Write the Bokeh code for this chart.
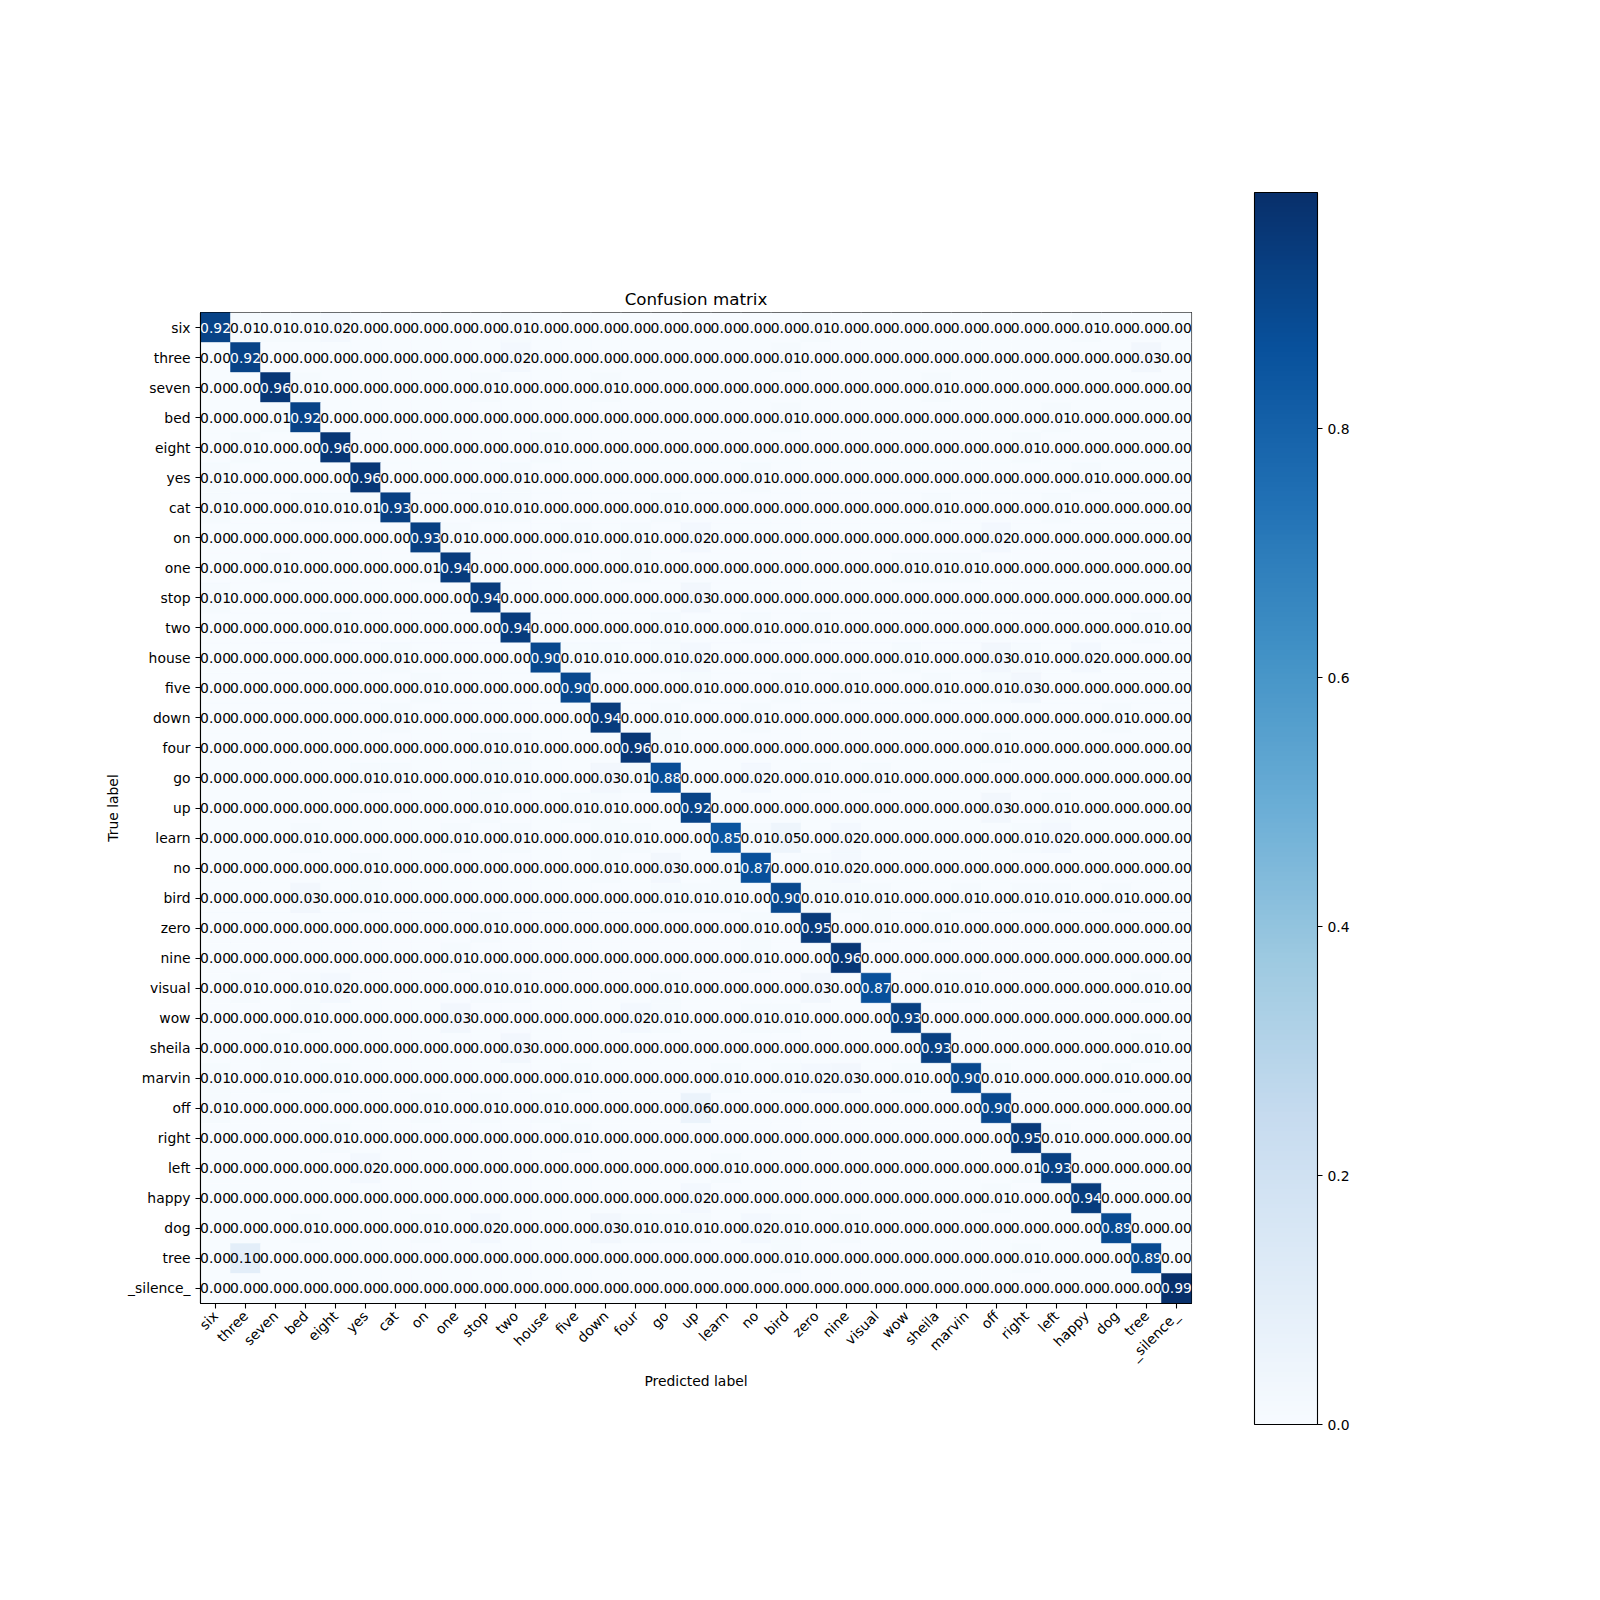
import math
import numpy as np
from bokeh.plotting import figure
from bokeh.models import (ColumnDataSource, LinearColorMapper, FixedTicker,
                          PrintfTickFormatter, FactorRange, ColorBar)
from bokeh.palettes import Blues256
from bokeh.core.properties import value
from bokeh.embed import file_html
from bokeh.resources import INLINE

classes = ["six", "three", "seven", "bed", "eight", "yes", "cat", "on", "one", "stop",
           "two", "house", "five", "down", "four", "go", "up", "learn", "no", "bird",
           "zero", "nine", "visual", "wow", "sheila", "marvin", "off", "right", "left",
           "happy", "dog", "tree", "_silence_"]

# each row: true label -> normalized counts per predicted label (column order = classes)
row_six     = [.92,.01,.01,.01,.02,0,0,0,0,0,.01,0,0,0,0,0,0,0,0,0,.01,0,0,0,0,0,0,0,0,.01,0,0,0]
row_three   = [0,.92,0,0,0,0,0,0,0,0,.02,0,0,0,0,0,0,0,0,.01,0,0,0,0,0,0,0,0,0,0,0,.03,0]
row_seven   = [0,0,.96,.01,0,0,0,0,0,.01,0,0,0,.01,0,0,0,0,0,0,0,0,0,0,.01,0,0,0,0,0,0,0,0]
row_bed     = [0,0,.01,.92,0,0,0,0,0,0,0,0,0,0,0,0,0,0,0,.01,0,0,0,0,0,0,0,0,.01,0,0,0,0]
row_eight   = [0,.01,0,0,.96,0,0,0,0,0,0,.01,0,0,0,0,0,0,0,0,0,0,0,0,0,0,0,.01,0,0,0,0,0]
row_yes     = [.01,0,0,0,0,.96,0,0,0,0,.01,0,0,0,0,0,0,0,.01,0,0,0,0,0,0,0,0,0,0,.01,0,0,0]
row_cat     = [.01,0,0,.01,.01,.01,.93,0,0,.01,.01,0,0,0,0,.01,0,0,0,0,0,0,0,0,.01,0,0,0,.01,0,0,0,0]
row_on      = [0,0,0,0,0,0,0,.93,.01,0,0,0,.01,0,.01,0,.02,0,0,0,0,0,0,0,0,0,.02,0,0,0,0,0,0]
row_one     = [0,0,.01,0,0,0,0,.01,.94,0,0,0,0,0,.01,0,0,0,0,0,0,0,0,.01,.01,.01,0,0,0,0,0,0,0]
row_stop    = [.01,0,0,0,0,0,0,0,0,.94,0,0,0,0,0,0,.03,0,0,0,0,0,0,0,0,0,0,0,0,0,0,0,0]
row_two     = [0,0,0,0,.01,0,0,0,0,0,.94,0,0,0,0,.01,0,0,.01,0,.01,0,0,0,0,0,0,0,0,0,0,.01,0]
row_house   = [0,0,0,0,0,0,.01,0,0,0,0,.90,.01,.01,0,.01,.02,0,0,0,0,0,0,.01,0,0,.03,.01,0,.02,0,0,0]
row_five    = [0,0,0,0,0,0,0,.01,0,0,0,0,.90,0,0,0,.01,0,0,.01,0,.01,0,0,.01,0,.01,.03,0,0,0,0,0]
row_down    = [0,0,0,0,0,0,.01,0,0,0,0,0,0,.94,0,.01,0,0,.01,0,0,0,0,0,0,0,0,0,0,0,.01,0,0]
row_four    = [0,0,0,0,0,0,0,0,0,.01,.01,0,0,0,.96,.01,0,0,0,0,0,0,0,0,0,0,.01,0,0,0,0,0,0]
row_go      = [0,0,0,0,0,.01,.01,0,0,.01,.01,0,0,.03,.01,.88,0,0,.02,0,.01,0,.01,0,0,0,0,0,0,0,0,0,0]
row_up      = [0,0,0,0,0,0,0,0,0,.01,0,0,.01,.01,0,0,.92,0,0,0,0,0,0,0,0,0,.03,0,.01,0,0,0,0]
row_learn   = [0,0,0,.01,0,0,0,0,.01,0,.01,0,0,.01,.01,0,0,.85,.01,.05,0,.02,0,0,0,0,0,.01,.02,0,0,0,0]
row_no      = [0,0,0,0,0,.01,0,0,0,0,0,0,0,.01,0,.03,0,.01,.87,0,.01,.02,0,0,0,0,0,0,0,0,0,0,0]
row_bird    = [0,0,0,.03,0,.01,0,0,0,0,0,0,0,0,0,.01,.01,.01,0,.90,.01,.01,.01,0,0,.01,0,.01,.01,0,.01,0,0]
row_zero    = [0,0,0,0,0,0,0,0,0,.01,0,0,0,0,0,0,0,0,.01,0,.95,0,.01,0,.01,0,0,0,0,0,0,0,0]
row_nine    = [0,0,0,0,0,0,0,0,.01,0,0,0,0,0,0,0,0,0,.01,0,0,.96,0,0,0,0,0,0,0,0,0,0,0]
row_visual  = [0,.01,0,.01,.02,0,0,0,0,.01,.01,0,0,0,0,.01,0,0,0,0,.03,0,.87,0,.01,.01,0,0,0,0,0,.01,0]
row_wow     = [0,0,0,.01,0,0,0,0,.03,0,0,0,0,0,.02,.01,0,0,.01,.01,0,0,0,.93,0,0,0,0,0,0,0,0,0]
row_sheila  = [0,0,.01,0,0,0,0,0,0,0,.03,0,0,0,0,0,0,0,0,0,0,0,0,0,.93,0,0,0,0,0,0,.01,0]
row_marvin  = [.01,0,.01,0,.01,0,0,0,0,0,0,0,.01,0,0,0,0,.01,0,.01,.02,.03,0,.01,0,.90,.01,0,0,0,.01,0,0]
row_off     = [.01,0,0,0,0,0,0,.01,0,.01,0,.01,0,0,0,0,.06,0,0,0,0,0,0,0,0,0,.90,0,0,0,0,0,0]
row_right   = [0,0,0,0,.01,0,0,0,0,0,0,0,.01,0,0,0,0,0,0,0,0,0,0,0,0,0,0,.95,.01,0,0,0,0]
row_left    = [0,0,0,0,0,.02,0,0,0,0,0,0,0,0,0,0,0,.01,0,0,0,0,0,0,0,0,0,.01,.93,0,0,0,0]
row_happy   = [0,0,0,0,0,0,0,0,0,0,0,0,0,0,0,0,.02,0,0,0,0,0,0,0,0,0,.01,0,0,.94,0,0,0]
row_dog     = [0,0,0,.01,0,0,0,.01,0,.02,0,0,0,.03,.01,.01,.01,0,.02,.01,0,.01,0,0,0,0,0,0,0,0,.89,0,0]
row_tree    = [0,.10,0,0,0,0,0,0,0,0,0,0,0,0,0,0,0,0,0,.01,0,0,0,0,0,0,0,.01,0,0,0,.89,0]
row_silence = [0,0,0,0,0,0,0,0,0,0,0,0,0,0,0,0,0,0,0,0,0,0,0,0,0,0,0,0,0,0,0,0,.99]

colorbar_ticks = [0.0, 0.2, 0.4, 0.6, 0.8]

matrix = np.array([row_six, row_three, row_seven, row_bed, row_eight, row_yes, row_cat,
                   row_on, row_one, row_stop, row_two, row_house, row_five, row_down,
                   row_four, row_go, row_up, row_learn, row_no, row_bird, row_zero,
                   row_nine, row_visual, row_wow, row_sheila, row_marvin, row_off,
                   row_right, row_left, row_happy, row_dog, row_tree, row_silence], dtype=float)

vmax = matrix.max()
thresh = vmax / 2.0
palette = list(reversed(Blues256))
mapper = LinearColorMapper(palette=palette, low=0.0, high=vmax)

xs, ys, vs, labels, tcols = [], [], [], [], []
for i, t in enumerate(classes):
    for j, pcls in enumerate(classes):
        v = matrix[i, j]
        xs.append(pcls)
        ys.append(t)
        vs.append(v)
        labels.append(f"{v:.2f}")
        tcols.append("white" if v > thresh else "black")
src = ColumnDataSource(dict(x=xs, y=ys, v=vs, label=labels, tcol=tcols))

FONT = "DejaVu Sans"
FS = "13.9px"

p = figure(x_range=FactorRange(*classes), y_range=FactorRange(*reversed(classes)),
           frame_width=991, frame_height=991,
           min_border_left=200, min_border_top=312, min_border_right=200, min_border_bottom=200,
           title="Confusion matrix", output_backend="svg", toolbar_location=None)
p.rect(x="x", y="y", width=1, height=1, source=src,
       fill_color={"field": "v", "transform": mapper},
       line_color={"field": "v", "transform": mapper}, line_width=0.5)
p.text(x="x", y="y", text="label", source=src, text_color="tcol",
       text_align="center", text_baseline="middle",
       text_font=value(FONT), text_font_size=value(FS))

p.title.align = "center"
p.title.text_font = FONT
p.title.text_font_size = "16.7px"
p.title.text_font_style = "normal"
p.title.text_color = "black"
p.title.standoff = 7

p.grid.visible = False
p.outline_line_color = "black"
p.outline_line_alpha = 1.0
p.outline_line_width = 1.1
p.background_fill_color = "white"
p.border_fill_color = "white"

for ax in (p.xaxis[0], p.yaxis[0]):
    ax.axis_line_color = "black"
    ax.axis_line_width = 1.1
    ax.major_tick_line_color = "black"
    ax.major_tick_line_width = 1.1
    ax.major_tick_out = 5
    ax.major_tick_in = 0
    ax.major_label_text_font = FONT
    ax.major_label_text_font_size = FS
    ax.major_label_text_color = "black"
    ax.major_label_standoff = 5
    ax.axis_label_text_font = FONT
    ax.axis_label_text_font_size = FS
    ax.axis_label_text_font_style = "normal"
    ax.axis_label_text_color = "black"

p.xaxis.axis_label = "Predicted label"
p.yaxis.axis_label = "True label"
p.xaxis.axis_label_standoff = 1
p.yaxis.axis_label_standoff = 4
p.xaxis.major_label_orientation = math.pi / 4

cbar = ColorBar(color_mapper=mapper, orientation="vertical",
                location=(1054, -121), width=63, height=1232, padding=0,
                ticker=FixedTicker(ticks=colorbar_ticks),
                formatter=PrintfTickFormatter(format="%.1f"),
                major_tick_out=5, major_tick_in=0,
                major_tick_line_color="black", major_tick_line_width=1.1,
                minor_tick_line_color=None,
                bar_line_color="black", bar_line_width=1.1,
                border_line_color=None, background_fill_color=None,
                label_standoff=5,
                major_label_text_font=FONT, major_label_text_font_size=FS,
                major_label_text_color="black")
p.add_layout(cbar)

open("out.html", "w").write(file_html(p, INLINE))
